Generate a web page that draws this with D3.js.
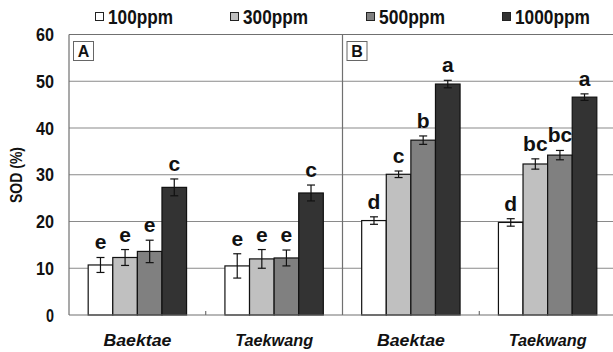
<!DOCTYPE html>
<html>
<head>
  <meta charset="utf-8">
  <title>SOD chart</title>
  <script src="https://cdnjs.cloudflare.com/ajax/libs/d3/7.8.5/d3.min.js"></script>
</head>
<style>
  body { margin: 0; background: #fff; }
  svg { display: block; }
  text { font-family: "Liberation Sans Narrow", "Arial Narrow", "Liberation Sans", Arial, sans-serif; font-weight: bold; fill: #111; }
</style>
<body>
<svg id="svg" width="613" height="352"></svg>
<script type="text/javascript">
  const panels = ['A', 'B'];
  const cultivars = ['Baektae', 'Taekwang'];
  const doses = ['100ppm', '300ppm', '500ppm', '1000ppm'];
  const yTicks = [0, 10, 20, 30, 40, 50, 60];

  // values per panel, per cultivar, per dose
  const means = {
    A: [[10.7, 12.3, 13.6, 27.3], [10.5, 12.0, 12.2, 26.1]],
    B: [[20.2, 30.1, 37.4, 49.4], [19.8, 32.3, 34.2, 46.6]]
  };
  const errors = {
    A: [[1.6, 1.7, 2.4, 1.8], [2.6, 2.0, 1.7, 1.7]],
    B: [[0.8, 0.7, 0.9, 0.8], [0.8, 1.1, 1.0, 0.7]]
  };
  const letters = {
    A: [['e', 'e', 'e', 'c'], ['e', 'e', 'e', 'c']],
    B: [['d', 'c', 'b', 'a'], ['d', 'bc', 'bc', 'a']]
  };

  const colors = ['#ffffff', '#c0c0c0', '#808080', '#333333'];
  const svg = d3.select('svg');

  const y = d3.scaleLinear().domain([0, 60]).range([315, 34.5]);
  const xPanel = d3.scaleBand().domain(panels).range([69, 616]);

  // gridlines
  svg.append('g').selectAll('line').data(yTicks.slice(1)).enter().append('line')
    .attr('x1', 69).attr('x2', 613)
    .attr('y1', d => y(d)).attr('y2', d => y(d))
    .attr('stroke', '#8a8a8a').attr('stroke-width', 1.2);

  // y axis labels
  svg.append('g').selectAll('text').data(yTicks).enter().append('text')
    .attr('x', 54).attr('y', d => y(d) + 6.5)
    .attr('text-anchor', 'end').attr('font-size', 18)
    .attr('textLength', d => d === 0 ? 8 : 18).attr('lengthAdjust', 'spacingAndGlyphs')
    .text(d => d);

  svg.append('text')
    .attr('transform', 'translate(22,175) rotate(-90)')
    .attr('text-anchor', 'middle').attr('font-size', 17)
    .attr('textLength', 56).attr('lengthAdjust', 'spacingAndGlyphs')
    .text('SOD (%)');

  panels.forEach(p => {
    const x0 = xPanel(p);
    const xCat = d3.scaleBand().domain(cultivars).range([x0, x0 + xPanel.bandwidth()]);
    const xDose = d3.scaleBand().domain(doses).range([0, xCat.bandwidth()]).paddingOuter(0.78);
    const g = svg.append('g');

    // panel box label
    g.append('rect').attr('x', x0 + 4.5).attr('y', 41.5).attr('width', 20).attr('height', 19)
      .attr('fill', '#fff').attr('stroke', '#666');
    g.append('text').attr('x', x0 + 14.5).attr('y', 57).attr('text-anchor', 'middle')
      .attr('font-size', 16).text(p);

    cultivars.forEach((c, ci) => {
      const rows = doses.map((d, di) => ({
        dose: d, di: di, v: means[p][ci][di], e: errors[p][ci][di], l: letters[p][ci][di]
      }));
      const cg = g.append('g').attr('transform', `translate(${xCat(c)},0)`);
      const bw = xDose.bandwidth();

      cg.selectAll('rect.bar').data(rows).enter().append('rect')
        .attr('class', 'bar')
        .attr('x', d => xDose(d.dose)).attr('width', bw)
        .attr('y', d => y(d.v)).attr('height', d => y(0) - y(d.v))
        .attr('fill', d => colors[d.di]).attr('stroke', '#111').attr('stroke-width', 1.2);

      const eb = cg.selectAll('g.err').data(rows).enter().append('g').attr('class', 'err')
        .attr('stroke', '#111').attr('stroke-width', 1.2);
      eb.append('line').attr('x1', d => xDose(d.dose) + bw / 2).attr('x2', d => xDose(d.dose) + bw / 2)
        .attr('y1', d => y(d.v + d.e)).attr('y2', d => y(d.v - d.e));
      eb.append('line').attr('x1', d => xDose(d.dose) + bw / 2 - 4).attr('x2', d => xDose(d.dose) + bw / 2 + 4)
        .attr('y1', d => y(d.v + d.e)).attr('y2', d => y(d.v + d.e));
      eb.append('line').attr('x1', d => xDose(d.dose) + bw / 2 - 4).attr('x2', d => xDose(d.dose) + bw / 2 + 4)
        .attr('y1', d => y(d.v - d.e)).attr('y2', d => y(d.v - d.e));

      cg.selectAll('text.sig').data(rows).enter().append('text')
        .attr('class', 'sig')
        .attr('x', d => xDose(d.dose) + bw / 2).attr('y', d => y(d.v + d.e) - 8)
        .attr('text-anchor', 'middle').attr('font-size', 21)
        .text(d => d.l);

      svg.append('text')
        .attr('x', xCat(c) + xCat.bandwidth() / 2).attr('y', 346)
        .attr('text-anchor', 'middle').attr('font-size', 17).attr('font-style', 'italic')
        .attr('textLength', c === 'Baektae' ? 68 : 78).attr('lengthAdjust', 'spacingAndGlyphs')
        .text(c);
    });

    // small tick between cultivars
    svg.append('line').attr('x1', xCat('Taekwang')).attr('x2', xCat('Taekwang'))
      .attr('y1', 311).attr('y2', 315).attr('stroke', '#555');
  });

  // frame lines
  const frame = svg.append('g').attr('stroke', '#707070').attr('stroke-width', 1.2);
  frame.append('line').attr('x1', 69).attr('x2', 613).attr('y1', y(60)).attr('y2', y(60));
  frame.append('line').attr('x1', 69).attr('x2', 613).attr('y1', y(0)).attr('y2', y(0));
  frame.append('line').attr('x1', 69).attr('x2', 69).attr('y1', y(60)).attr('y2', y(0));
  frame.append('line').attr('x1', xPanel('B')).attr('x2', xPanel('B')).attr('y1', y(60)).attr('y2', y(0));

  // legend
  const legX = [95, 230, 366, 502];
  const legLen = [65, 65, 66, 75];
  const leg = svg.append('g').selectAll('g').data(doses).enter().append('g')
    .attr('transform', (d, i) => `translate(${legX[i]},0)`);
  leg.append('rect').attr('x', 0.5).attr('y', 12.5).attr('width', 8).attr('height', 8)
    .attr('fill', (d, i) => colors[i]).attr('stroke', '#222');
  leg.append('text').attr('x', 13).attr('y', 23.5).attr('font-size', 20)
    .attr('textLength', (d, i) => legLen[i]).attr('lengthAdjust', 'spacingAndGlyphs')
    .text(d => d);
</script>
</body>
</html>
